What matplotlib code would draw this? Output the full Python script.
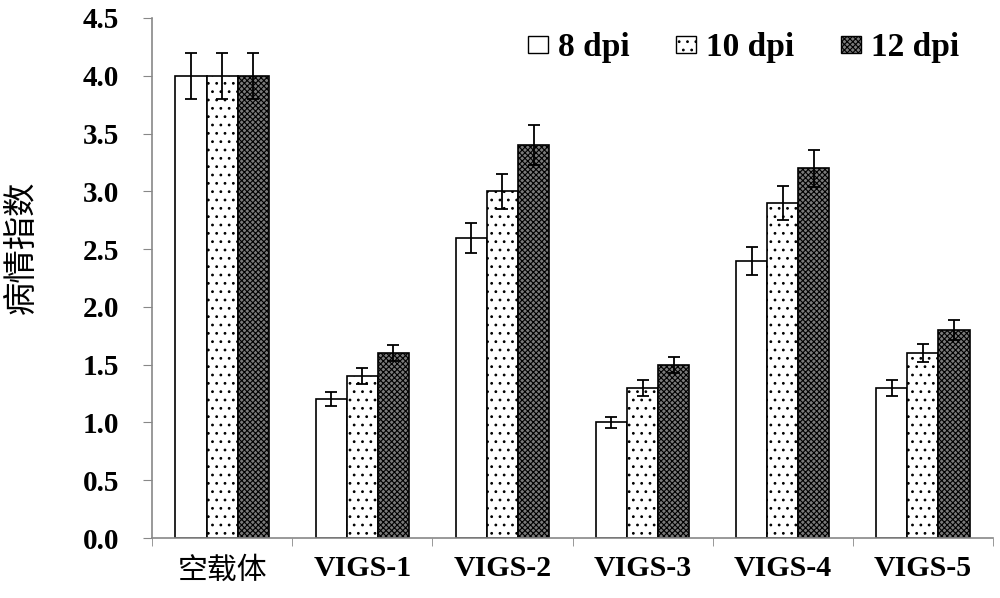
import numpy as np
import matplotlib
matplotlib.use("Agg")
import matplotlib.pyplot as plt
from matplotlib.patches import Patch

groups = ["空载体", "VIGS-1", "VIGS-2", "VIGS-3", "VIGS-4", "VIGS-5"]
series = ["8 dpi", "10 dpi", "12 dpi"]
dpi8 = [4.0, 1.2, 2.6, 1.0, 2.4, 1.3]
dpi10 = [4.0, 1.4, 3.0, 1.3, 2.9, 1.6]
dpi12 = [4.0, 1.6, 3.4, 1.5, 3.2, 1.8]
err8 = [0.2, 0.06, 0.13, 0.05, 0.12, 0.07]
err10 = [0.2, 0.07, 0.15, 0.07, 0.15, 0.08]
err12 = [0.2, 0.07, 0.17, 0.07, 0.16, 0.09]
yticks = [0.0, 0.5, 1.0, 1.5, 2.0, 2.5, 3.0, 3.5, 4.0, 4.5]

serif = ["Liberation Serif", "DejaVu Serif"]
cjk = ["Noto Sans CJK SC", "DejaVu Sans"]
plt.rcParams["hatch.linewidth"] = 0.8

fig = plt.figure(figsize=(10, 5.98), dpi=100)
ax = fig.add_axes([0.152, 0.1003, 0.841, 0.8697])

x = np.arange(len(groups))
w = 0.222
styles = [
    dict(facecolor="white", hatch=None),
    dict(facecolor="white", hatch=".."),
    dict(facecolor="#7a7a7a", hatch="xxxxxx"),
]
vals = [dpi8, dpi10, dpi12]
errs = [err8, err10, err12]
for i in range(3):
    ax.bar(x + (i - 1) * w, vals[i], w, edgecolor="black", linewidth=1.2,
           yerr=errs[i], capsize=4,
           error_kw=dict(ecolor="black", elinewidth=1.3, capthick=1.3),
           **styles[i])

ax.set_xlim(-0.5, len(groups) - 0.5)
ax.set_ylim(0, 4.5)
ax.set_yticks(yticks)
ax.set_yticklabels([f"{v:.1f}" for v in yticks], fontfamily=serif,
                   fontweight="bold", fontsize=21)
ax.set_xticks(x)
ax.set_xticks(np.arange(len(groups) + 1) - 0.5, minor=True)
ax.set_xticklabels(groups, fontsize=21.5)
for lab in ax.get_xticklabels():
    if lab.get_text().startswith("VIGS"):
        lab.set_fontfamily(serif)
        lab.set_fontweight("bold")
    else:
        lab.set_fontfamily(cjk)
ax.tick_params(axis="x", which="major", length=0, pad=12)
ax.tick_params(axis="x", which="minor", length=6, color="#888888", direction="out")
ax.tick_params(axis="y", length=6.5, color="#888888", pad=17)

for s in ["top", "right"]:
    ax.spines[s].set_visible(False)
for s in ["left", "bottom"]:
    ax.spines[s].set_color("#888888")
    ax.spines[s].set_linewidth(1.2)

ax.set_ylabel("病情指数", fontfamily=cjk, fontsize=24)
ax.yaxis.set_label_coords(-0.134, 0.56)

handles = [Patch(edgecolor="black", linewidth=1.0, **st) for st in styles]
ax.legend(handles, series, loc="upper right", bbox_to_anchor=(0.995, 1.03),
          ncol=3, frameon=False, handlelength=0.6, handleheight=0.4,
          handletextpad=0.3, columnspacing=1.4,
          prop=dict(family=serif, weight="bold", size=24))

fig.savefig("out.png", dpi=100)
